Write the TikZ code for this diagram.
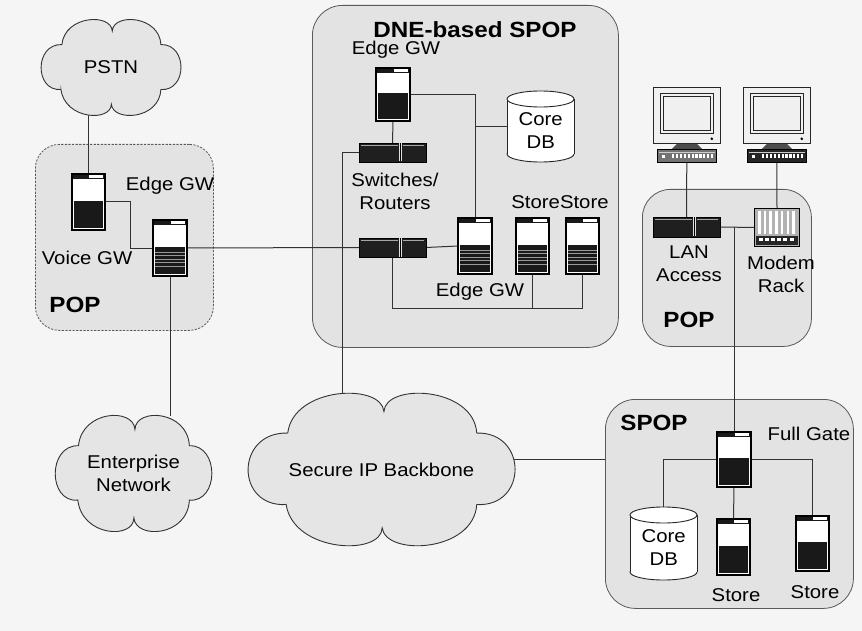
\documentclass[tikz,border=0pt]{standalone}
\usepackage{fontspec}
\setmainfont{Liberation Sans}[FakeStretch=1.1]
\usetikzlibrary{calc}
\pgfdeclarelayer{bg}
\pgfdeclarelayer{links}
\pgfsetlayers{bg,links,main}

% ---------- device macros ----------
% server: name, x, y (top left), width, height, striped (1) or solid (0)
\newcommand\srvbox[6]{%
  \node[srv, minimum width=#4pt, minimum height=#5pt] (#1) at (#2,#3) {};
  \fill[black!90] (#1.north west) rectangle ([shift={(0,5)}]#1.north east);
  \fill[white] ([shift={({0.52*#4},1.4)}]#1.north west) rectangle ([shift={(-2.5,3.7)}]#1.north east);
  \fill[black!90] ([shift={(2.2,{0.48*#5})}]#1.north west) rectangle ([shift={(-2.2,-2.2)}]#1.south east);
  \ifnum#6=1
    \foreach \k in {0,...,4}
      \draw[black!40, line width=0.7pt] ([shift={(2.2,{0.57*#5+\k*3.6})}]#1.north west) -- ++({#4-4.4},0);
  \fi
  \draw[black, line width=1.2pt] (#1.north west) rectangle (#1.south east);
}
% switch / router: name, x, y, width, height
\newcommand\swbox[5]{%
  \node[swt, minimum width=#4pt, minimum height=#5pt] (#1) at (#2,#3) {};
  \draw[black!35, line width=0.5pt] ([shift={(2,2.5)}]#1.north west) -- ([shift={({0.6*#4-1},2.5)}]#1.north west);
  \draw[black!35, line width=0.5pt] ([shift={({0.6*#4+4},2.5)}]#1.north west) -- ([shift={(-2,2.5)}]#1.north east);
  \fill[black!12] ([shift={({0.6*#4},0.5)}]#1.north west) rectangle ([shift={({0.6*#4+3},-0.5)}]#1.south west);
  \draw[black, line width=0.6pt] ([shift={({0.6*#4+1.5},0.5)}]#1.north west) -- ([shift={({0.6*#4+1.5},-0.5)}]#1.south west);
}
% database cylinder: name, x, y, width, height
\newcommand\dbcyl[5]{%
  \node[anchor=north west, minimum width=#4pt, minimum height=#5pt, inner sep=0pt] (#1) at (#2,#3) {};
  \filldraw[fill=white, draw=black!85, line width=0.9pt] ([shift={({#4/2},{#5-8})}]#1.north west) ellipse [x radius={#4/2}, y radius=8];
  \fill[white] ([shift={(0,8)}]#1.north west) rectangle ([shift={(#4,{#5-8})}]#1.north west);
  \draw[black!85, line width=0.9pt] ([shift={(0,8)}]#1.north west) -- ([shift={(0,{#5-8})}]#1.north west);
  \draw[black!85, line width=0.9pt] ([shift={(#4,8)}]#1.north west) -- ([shift={(#4,{#5-8})}]#1.north west);
  \filldraw[fill=white, draw=black!85, line width=0.9pt] ([shift={({#4/2},8)}]#1.north west) ellipse [x radius={#4/2}, y radius=8];
  \node[lbl] at ([shift={(0,4)}]#1.center) {Core\\DB};
}
% desktop computer: name of base, x, y (top left of monitor), base shade
\newcommand\pcunit[4]{%
  \node[anchor=north west, draw=black!85, fill=black!6, line width=0.8pt, minimum width=67pt, minimum height=56pt, inner sep=0pt] (#1m) at (#2,#3) {};
  \draw[black!85, line width=0.7pt] ([shift={(7,6)}]#1m.north west) rectangle ([shift={(-7,-10)}]#1m.south east);
  \draw[black!85, line width=0.7pt] ([shift={(10,9)}]#1m.north west) rectangle ([shift={(-10,-13)}]#1m.south east);
  \fill[black] ([shift={(-9,-5)}]#1m.south east) circle (1.4);
  \fill[black!70] ([shift={(24,0)}]#1m.south west) -- ([shift={(-24,0)}]#1m.south east)
       -- ([shift={(-19,5)}]#1m.south east) -- ([shift={(19,5)}]#1m.south west) -- cycle;
  \node[anchor=north west, draw=black, fill=#4, line width=0.6pt, minimum width=59pt, minimum height=13pt, inner sep=0pt] (#1) at ({#2+4},{#3+62}) {};
  \draw[white!80!black, line width=0.5pt] ([shift={(2,3)}]#1.north west) -- ([shift={(-2,3)}]#1.north east);
  \fill[white] ([shift={(5,6)}]#1.north west) rectangle ++(3,3);
  \foreach \k in {0,...,10}
    \fill[white] ([shift={(15+\k*3.9,5.5)}]#1.north west) rectangle ++(2.2,4);
}
% cloud: name, centre x, centre y, half width, half height, text
\newcommand\cloudnode[6]{%
  \node[minimum width={2*#4 pt}, minimum height={2*#5 pt}, inner sep=0pt] (#1) at (#2,#3) {};
  \filldraw[cloudfill, shift={(#2,#3)}, xscale=#4, yscale=#5]
    (-0.705,0.464) .. controls (-1.08,0.5) and (-1.08,-0.5) .. (-0.692,-0.483)
    .. controls (-0.65,-1.1) and (0.0,-1.15) .. (0.018,-0.768)
    .. controls (0.03,-1.15) and (0.68,-1.1) .. (0.703,-0.483)
    .. controls (1.08,-0.5) and (1.08,0.5) .. (0.703,0.464)
    .. controls (0.68,1.1) and (0.03,1.15) .. (0.005,0.773)
    .. controls (0.0,1.15) and (-0.65,1.1) .. cycle;
  \node[lbl] at (#1) {#6};
}

\begin{document}
\begin{tikzpicture}[x=1pt, y=-1pt,
  lbl/.style={font=\fontsize{18.5}{23}\selectfont, align=center, inner sep=0pt},
  title/.style={font=\fontsize{22}{24}\selectfont\bfseries, inner sep=0pt},
  region/.style={anchor=north west, draw=black!65, line width=0.8pt, fill=black!11, inner sep=0pt},
  srv/.style={anchor=north west, draw=black, fill=white, line width=1.2pt, inner sep=0pt, outer sep=0pt},
  swt/.style={anchor=north west, draw=black, fill=black!88, line width=0.8pt, inner sep=0pt, outer sep=0pt},
  cloudfill/.style={draw=black!80, line width=0.9pt, fill=black!10},
  link/.style={draw=black!80, line width=1pt}]

\useasboundingbox (0,0) rectangle (862,631);

% ---------- page and site regions ----------
\begin{pgfonlayer}{bg}
  \fill[black!4] (0,0) rectangle (862,631);
  \node[region, dashed, dash pattern=on 2.2pt off 1.4pt, rounded corners=24pt,
        minimum width=178pt, minimum height=186pt] (lpop) at (35,144) {};
  \node[region, rounded corners=30pt, minimum width=306pt, minimum height=342pt] (dne) at (312,5) {};
  \node[region, rounded corners=28pt, minimum width=169pt, minimum height=157pt] (rpop) at (642,189) {};
  \node[region, rounded corners=30pt, minimum width=248pt, minimum height=209pt] (spop) at (605,399) {};
\end{pgfonlayer}

% ---------- clouds ----------
\cloudnode{pstn}{111}{67.5}{71}{47.5}{PSTN}
\cloudnode{ent}{133.5}{473.5}{79.5}{57.5}{Enterprise\\Network}
\cloudnode{bb}{381.5}{469.5}{135.5}{75.5}{Secure IP Backbone}

% ---------- left POP ----------
\srvbox{vgw}{72}{174}{33}{56}{0}
\srvbox{pegw}{153}{220}{34}{56}{1}

% ---------- DNE-based SPOP ----------
\srvbox{tegw}{376}{68}{34}{53}{0}
\swbox{usw}{359}{143}{67}{19}
\swbox{lsw}{359}{238}{67}{19}
\srvbox{megw}{458}{218}{34}{56}{1}
\srvbox{st1}{516}{218}{33}{56}{1}
\srvbox{st2}{566}{218}{33}{56}{1}
\dbcyl{db1}{507}{91}{67}{71}

% ---------- right POP ----------
\pcunit{pc1}{653}{87}{black!55}
\pcunit{pc2}{743}{87}{black!85}
\swbox{lan}{653}{217}{67}{20}
\node[anchor=north west, draw=black, fill=black!30, line width=1pt, minimum width=45pt, minimum height=38pt, inner sep=0pt] (rack) at (754,208) {};
\foreach \k in {0,...,6}
  \fill[white] ([shift={(4+\k*5.7,3)}]rack.north west) rectangle ++(2.6,23);
\fill[black!85] ([shift={(2,28)}]rack.north west) rectangle ([shift={(-2,-2)}]rack.south east);
\foreach \k in {0,...,5}
  \fill[white] ([shift={(4.5+\k*6.2,30.5)}]rack.north west) rectangle ++(4,2.4);

% ---------- SPOP ----------
\srvbox{fgate}{717}{432}{34}{55}{0}
\srvbox{sst1}{717}{519}{33}{56}{0}
\srvbox{sst2}{796}{516}{33}{55}{0}
\dbcyl{db2}{630}{507}{67}{73}

% ---------- connectors ----------
\begin{pgfonlayer}{links}
  \draw[link] (vgw.north) -- (vgw.north |- pstn.south);
  \draw[link] (vgw.east) -- ++(25,0) |- (pegw.west);
  \draw[link] (pegw.east) -- (lsw.west);
  \draw[link] (pegw.south) -- (pegw.south |- ent.north);
  \draw[link] (usw.west) -| ([xshift=-39.5pt]bb.north);
  \draw[link] (tegw.south) -- (usw.north);
  \draw[link] (tegw.east) -| (megw.north);
  \draw[link] (megw.north |- db1.west) -- (db1.west);
  \draw[link] (lsw.east) -- (megw.west);
  \draw[link] (lsw.south) -- ++(0,51) -| (st2.south);
  \draw[link] (st1.south) -- ++(0,34);
  \draw[link] (pc1.south) -- (lan.north);
  \draw[link] (pc2.south) -- (rack.north);
  \draw[link] (lan.east) -- (rack.west);
  \draw[link] (fgate.north) -- (fgate.north |- lan.east);
  \draw[link] (bb.center |- fgate.west) -- (spop.west |- fgate.west);
  \draw[link] (fgate.west) -| (db2.north);
  \draw[link] (fgate.east) -| (sst2.north);
  \draw[link] (fgate.south) -- (sst1.north);
\end{pgfonlayer}

% ---------- labels ----------
\node[lbl] at (170,186) {Edge GW};
\node[lbl] at (87,258) {Voice GW};
\node[title] at (75,305) {POP};
\node[title] at (475,30) {DNE-based SPOP};
\node[lbl] at (396,50) {Edge GW};
\node[lbl] at (395,191) {Switches/\\Routers};
\node[lbl] at (560,202) {StoreStore};
\node[lbl] at (480,292) {Edge GW};
\node[lbl] at (689,264) {LAN\\Access};
\node[lbl] at (781,274) {Modem\\Rack};
\node[title] at (689,320) {POP};
\node[title] at (654,423) {SPOP};
\node[lbl] at (809,434) {Full Gate};
\node[lbl] at (736,595) {Store};
\node[lbl] at (815,592) {Store};
\end{tikzpicture}
\end{document}
